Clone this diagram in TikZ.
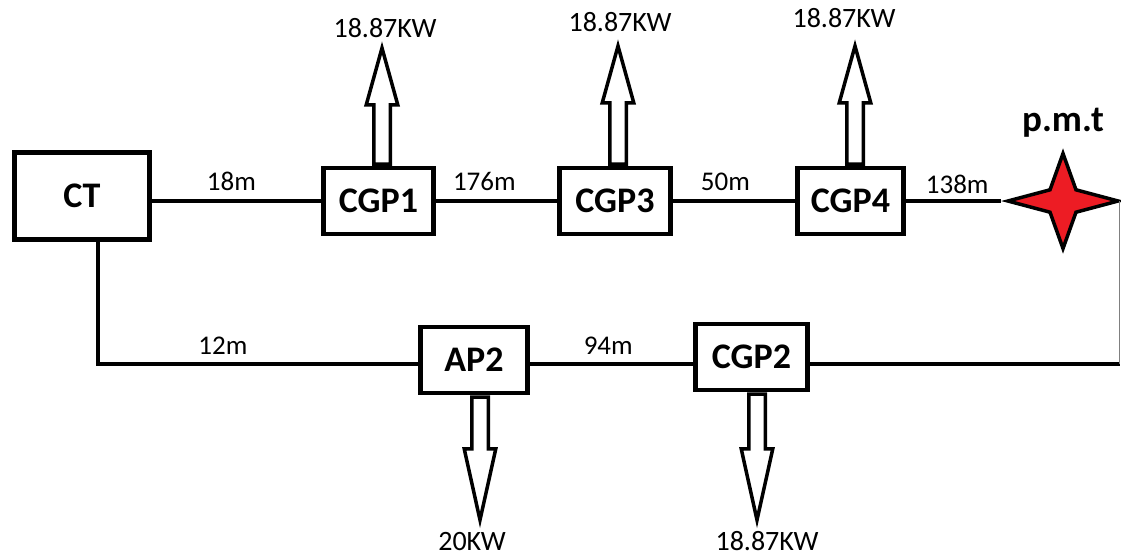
\documentclass[tikz,border=0pt]{standalone}
\usepackage{fontspec}
\setmainfont{Carlito}
\usetikzlibrary{positioning,shapes.geometric,shapes.arrows,calc}
\definecolor{pmtred}{RGB}{237,28,36}

\begin{document}
\begin{tikzpicture}[x=1pt, y=-1pt,
  box/.style={rectangle, draw, line width=4.5pt, minimum width=110pt, minimum height=66pt,
              inner sep=0pt, font=\fontsize{36}{40}\selectfont\bfseries},
  pipe/.style={line width=3.8pt},
  dist/.style={font=\fontsize{27}{30}\selectfont, inner sep=2pt},
  load/.style={font=\fontsize{28}{32}\selectfont, inner sep=0pt},
  flow/.style={single arrow, draw, line width=3.5pt, inner xsep=0pt, inner ysep=6.5pt,
               single arrow head extend=7.5pt, anchor=tail},
  upflow/.style={flow, rotate=90, single arrow tip angle=31},
  downflow/.style={flow, rotate=-90, single arrow tip angle=25}
]
\useasboundingbox (0,0) rectangle (1121,558);

% stations
\node[box, minimum width=135pt, minimum height=87pt] (ct) at (82,196) {CT};
\node[box] (cgp1) at (378.5,201) {CGP1};
\node[box, minimum width=111pt] (cgp3) at (615,201) {CGP3};
\node[box, minimum width=106pt] (cgp4) at (850.5,201) {CGP4};
\node[box, minimum width=107pt] (ap2) at (474,360) {AP2};
\node[box, minimum width=112pt] (cgp2) at (751.5,357) {CGP2};
\node[star, star points=4, star point ratio=3, minimum size=95pt, inner sep=0pt, xscale=1.16,
      draw, line width=3.5pt, fill=pmtred] (pmt) at (1063,201) {};
\node[above=8pt of pmt, font=\fontsize{37}{40}\selectfont\bfseries, inner sep=2pt] (pmtlbl) {p.m.t};

\coordinate (ctdn) at (98,364);
\coordinate (rdn) at (1119.5,364);

% top line
\draw[pipe] (ct.east |- cgp1.west) -- node[dist, above=6pt, pos=0.47]{18m} (cgp1.west);
\draw[pipe] (cgp1.east) -- node[dist, above=6pt, pos=0.40]{176m} (cgp3.west);
\draw[pipe] (cgp3.east) -- node[dist, above=6pt, pos=0.43]{50m} (cgp4.west);
\draw[pipe] (cgp4.east) -- node[dist, above=3pt, pos=0.54]{138m} (pmt.west);

% bottom line
\draw[pipe] (ct.south -| ctdn) -- (ctdn) -- node[dist, above=6pt, pos=0.39]{12m} (ctdn -| ap2.west);
\draw[pipe, line width=3.2pt] (ap2.east |- ctdn) -- node[dist, above=6pt, pos=0.48]{94m} (cgp2.west |- ctdn);
\draw[pipe] (cgp2.east |- ctdn) -- (rdn);
\draw[gray, line width=1.5pt] (rdn |- pmt) -- (rdn);

% power outputs
\node[upflow, minimum height=116pt] (f1) at ($(cgp1.north)+(3.5,0)$) {};
\node[upflow, minimum height=118pt] (f3) at ($(cgp3.north)+(3,0)$) {};
\node[upflow, minimum height=118pt] (f4) at ($(cgp4.north)+(4.5,0)$) {};
\node[downflow, minimum height=123pt] (f2) at ($(ap2.south)+(6,0)$) {};
\node[downflow, minimum height=126pt] (f5) at ($(cgp2.south)+(5.5,0)$) {};

\node[load] (p1) at (385,28) {18.87KW};
\node[load] (p3) at (620,22) {18.87KW};
\node[load] (p4) at (844,18) {18.87KW};
\node[load] (p2) at (472,541) {20KW};
\node[load] (p5) at (767,541) {18.87KW};
\end{tikzpicture}
\end{document}
